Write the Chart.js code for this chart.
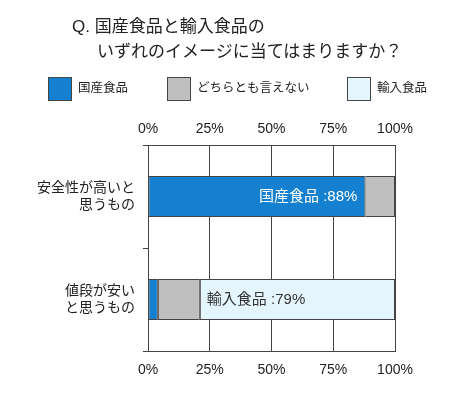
<!DOCTYPE html>
<html>
<head>
<meta charset="utf-8">
<script src="https://cdn.jsdelivr.net/npm/chart.js@4.4.1/dist/chart.umd.min.js"></script>
<style>
  html, body { margin: 0; padding: 0; background: #fff; }
  body { width: 459px; height: 399px; position: relative; overflow: hidden;
         font-family: Arial, "Liberation Sans", "Noto Sans CJK JP", sans-serif; color: #222; }
  #chart { position: absolute; left: 0; top: 0; }
  .title { position: absolute; font-size: 17px; line-height: 17px; white-space: nowrap; }
  .key { position: absolute; top: 77px; font-size: 12.5px; line-height: 23px; white-space: nowrap; }
  .key span { display: inline-block; width: 22px; height: 22px; border: 1px solid #444;
              vertical-align: top; margin-right: 6px; }
</style>
</head>
<body>
<canvas id="chart" width="459" height="399"></canvas>
<div class="title" style="left:72px; top:18px;">Q. 国産食品と輸入食品の</div>
<div class="title" style="left:97px; top:43px;">いずれのイメージに当てはまりますか？</div>
<div class="key" style="left:48px;"><span style="background:#1580d0"></span>国産食品</div>
<div class="key" style="left:167px;"><span style="background:#bfbfbf"></span>どちらとも言えない</div>
<div class="key" style="left:347px;"><span style="background:#e5f5fd"></span>輸入食品</div>
<script>
const categories = [['安全性が高いと', '思うもの'], ['値段が安い', 'と思うもの']];
const seriesNames = ['国産食品', 'どちらとも言えない', '輸入食品'];
const domestic = [88, 4];
const neither = [12, 17];
const imported = [null, 79];
const barColors = ['#1580d0', '#bfbfbf', '#e5f5fd'];
const insideLabels = ['国産食品 :88%', '輸入食品 :79%'];

const lineColor = '#444';
const font = { family: 'Arial, "Liberation Sans", "Noto Sans CJK JP", sans-serif', size: 14 };

const barText = {
  id: 'barText',
  afterDatasetsDraw(chart) {
    const ctx = chart.ctx;
    ctx.save();
    ctx.font = '15px ' + font.family;
    ctx.textBaseline = 'middle';
    // domestic share on the first bar, white, at the end of the blue part
    let el = chart.getDatasetMeta(0).data[0];
    ctx.fillStyle = '#ffffff';
    ctx.textAlign = 'right';
    ctx.fillText(insideLabels[0], el.x - 8, el.y);
    // imported share on the second bar, dark, at the start of the light part
    el = chart.getDatasetMeta(2).data[1];
    ctx.fillStyle = '#333';
    ctx.textAlign = 'left';
    ctx.fillText(insideLabels[1], el.base + 7, el.y);
    ctx.restore();
  }
};

const xTicks = {
  stepSize: 25,
  color: '#222',
  font: font,
  callback: v => v + '%'
};

new Chart(document.getElementById('chart'), {
  type: 'bar',
  data: {
    labels: categories,
    datasets: [
      { label: seriesNames[0], data: domestic, backgroundColor: barColors[0] },
      { label: seriesNames[1], data: neither, backgroundColor: barColors[1] },
      { label: seriesNames[2], data: imported, backgroundColor: barColors[2] }
    ].map(d => Object.assign(d, {
      borderColor: lineColor, borderWidth: 1, borderSkipped: false,
      barPercentage: 0.4, categoryPercentage: 1
    }))
  },
  options: {
    indexAxis: 'y',
    responsive: false,
    animation: false,
    layout: { padding: { top: 0, left: 0, right: 64, bottom: 0 } },
    plugins: { legend: { display: false }, tooltip: { enabled: false } },
    scales: {
      x: {
        stacked: true, min: 0, max: 100, position: 'bottom',
        ticks: Object.assign({ padding: 11 }, xTicks),
        grid: { color: lineColor, drawTicks: false },
        border: { color: lineColor },
        afterFit: s => { s.height = 48; }
      },
      x2: {
        min: 0, max: 100, position: 'top',
        ticks: Object.assign({ padding: 7 }, xTicks),
        grid: { drawOnChartArea: false, drawTicks: false },
        border: { color: lineColor },
        afterFit: s => { s.height = 145; }
      },
      y: {
        stacked: true,
        ticks: { color: '#222', font: font, padding: 8 },
        grid: { color: lineColor, drawOnChartArea: false, tickLength: 5 },
        border: { color: lineColor },
        afterFit: s => { s.width = 148; }
      }
    }
  },
  plugins: [barText]
});
</script>
</body>
</html>
